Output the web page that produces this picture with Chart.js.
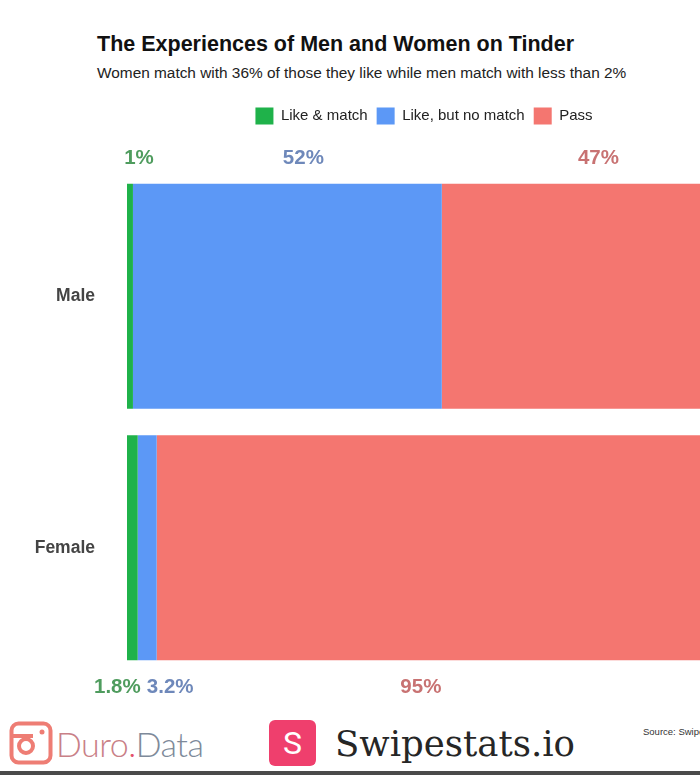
<!DOCTYPE html>
<html>
<head>
<meta charset="utf-8">
<script src="https://cdn.jsdelivr.net/npm/chart.js@4"></script>
<style>
  html, body { margin: 0; padding: 0; background: #fff; overflow: hidden; width: 700px; height: 775px; }
  #chart { position: absolute; left: 0; top: 0; }
  .txt { position: absolute; white-space: nowrap; font-family: 'Liberation Sans', Arial, sans-serif; }
</style>
</head>
<body>
<div class="txt" style="left:97px; top:31px; font-size:21.5px; line-height:26px; font-weight:bold; color:#111;">The Experiences of Men and Women on Tinder</div>
<div class="txt" style="left:97px; top:64px; font-size:15.4px; line-height:18px; color:#222;">Women match with 36% of those they like while men match with less than 2%</div>

<canvas id="chart" width="740" height="716"></canvas>

<!-- footer logos -->
<svg class="txt" style="left:9px; top:721px;" width="44" height="44" viewBox="0 0 44 44">
  <rect x="2.5" y="2.5" width="39" height="39" rx="7" fill="none" stroke="#ee7d74" stroke-width="4"/>
  <line x1="2.5" y1="15" x2="24" y2="15" stroke="#ee7d74" stroke-width="4"/>
  <circle cx="17" cy="25" r="7" fill="none" stroke="#ee7d74" stroke-width="4"/>
  <circle cx="33" cy="11" r="2.5" fill="#ee7d74"/>
</svg>
<div class="txt" style="left:56px; top:727px; font: 300 34px/34px Lato, sans-serif; letter-spacing:-0.5px;">
  <span style="color:#c98087">Duro</span><span style="color:#e4526c">.</span><span style="color:#7e8a9a">Data</span>
</div>
<div class="txt" style="left:269px; top:720px; width:47px; height:46px; border-radius:6px; background:#ef3f6d; color:#fff; font: 32px/46px Roboto, sans-serif; text-align:center;">S</div>
<div class="txt" style="left:335px; top:726px; font: 35.5px/35.5px 'DejaVu Serif', serif; color:#262626;">Swipestats.io</div>
<div class="txt" style="left:643px; top:726px; font-size:9.5px; color:#333;">Source: Swipestats.io</div>
<div class="txt" style="left:0; top:771px; width:700px; height:4px; background:#4a4a4a;"></div>

<script>
// chart data
const categories = ["Male", "Female"];
const seriesNames = ["Like & match", "Like, but no match", "Pass"];
const likeMatch = [1, 1.8];
const likeNoMatch = [52, 3.2];
const pass = [47, 95];

const barColors = ["#1fb24a", "#5c98f6", "#f47670"];
const labelColors = ["#4f9c5e", "#6e88ba", "#c87272"];
// nudge (px) of each value label from the middle of its segment, per series: [Male, Female]
const labelNudge = [[9, -15], [16, 23], [17, -18]];

const valueLabels = {
  id: "valueLabels",
  afterDatasetsDraw(chart) {
    const ctx = chart.ctx;
    ctx.save();
    ctx.font = "bold 20.5px 'Liberation Sans', Arial, sans-serif";
    ctx.textAlign = "center";
    ctx.textBaseline = "middle";
    chart.data.datasets.forEach((ds, i) => {
      const meta = chart.getDatasetMeta(i);
      meta.data.forEach((bar, j) => {
        const x = (bar.base + bar.x) / 2 + labelNudge[i][j];
        const y = j === 0 ? bar.y - bar.height / 2 - 25 : bar.y + bar.height / 2 + 27;
        ctx.fillStyle = labelColors[i];
        ctx.fillText(ds.data[j] + "%", x, y);
      });
    });
    ctx.restore();
  }
};

// extra room under the legend
const legendGap = {
  id: "legendGap",
  beforeInit(chart) {
    const fit = chart.legend.fit;
    chart.legend.fit = function () {
      fit.call(chart.legend);
      this.height += 36;
    };
  }
};

new Chart(document.getElementById("chart"), {
  type: "bar",
  data: {
    labels: categories,
    datasets: [
      { label: seriesNames[0], data: likeMatch, backgroundColor: barColors[0] },
      { label: seriesNames[1], data: likeNoMatch, backgroundColor: barColors[1] },
      { label: seriesNames[2], data: pass, backgroundColor: barColors[2] }
    ]
  },
  options: {
    indexAxis: "y",
    responsive: false,
    animation: false,
    devicePixelRatio: 1,
    barPercentage: 0.895,
    categoryPercentage: 1,
    // the y ticks padding (32) also reserves ~42px at the bottom
    layout: { padding: { left: 20, right: 19, top: 98.5, bottom: 0 } },
    scales: {
      x: { stacked: true, min: 0, max: 100, display: false },
      y: {
        stacked: true,
        grid: { display: false, drawTicks: false },
        border: { display: false },
        ticks: {
          padding: 32,
          color: "#444",
          font: { family: "'Liberation Sans', Arial, sans-serif", size: 17.5, weight: "bold" }
        },
        afterFit(scale) { scale.width = 107; }
      }
    },
    plugins: {
      legend: {
        position: "top",
        fullSize: false,
        labels: {
          boxWidth: 18,
          boxHeight: 17,
          padding: 9,
          color: "#222",
          font: { family: "'Liberation Sans', Arial, sans-serif", size: 15 }
        }
      },
      tooltip: { enabled: false }
    }
  },
  plugins: [valueLabels, legendGap]
});
</script>
</body>
</html>
